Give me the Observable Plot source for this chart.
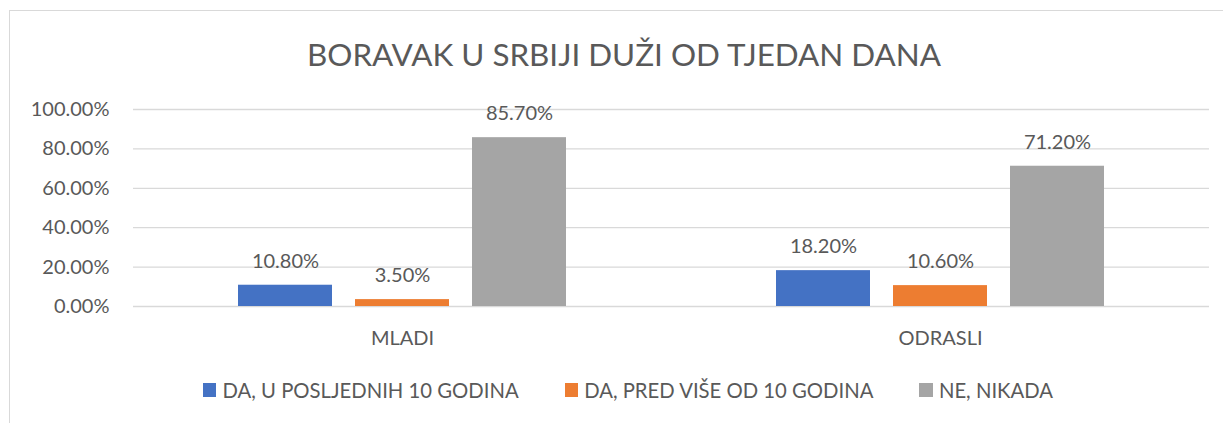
<!DOCTYPE html>
<html>
<head>
<meta charset="utf-8">
<script src="https://cdn.jsdelivr.net/npm/d3@7"></script>
<script src="https://cdn.jsdelivr.net/npm/@observablehq/plot@0.6"></script>
<style>
  html, body { margin: 0; padding: 0; background: #fff; }
  body { width: 1223px; height: 423px; position: relative; overflow: hidden; font-family: Lato, sans-serif; color: #595959; }
  #frame { position: absolute; left: 9px; top: 10px; width: 1230px; height: 430px; border: 1px solid #d9d9d9; box-sizing: border-box; }
  #title { position: absolute; left: 9px; width: 1230px; top: 34px; text-align: center; font-size: 31.4px; line-height: 40px; color: #595959; }
  #chart { position: absolute; left: 0; top: 80px; }
  #legend { position: absolute; left: 0; top: 378px; display: flex; gap: 46px; font-size: 20.3px; line-height: 24px; }
  .item { display: flex; align-items: center; }
  .sw { width: 13.5px; height: 13.5px; margin-right: 6px; }
</style>
</head>
<body>
<div id="frame"></div>
<div id="title">BORAVAK U SRBIJI DUŽI OD TJEDAN DANA</div>
<div id="chart"></div>
<div id="legend"></div>
<script>
const groups = ["MLADI", "ODRASLI"];
const series = ["DA, U POSLJEDNIH 10 GODINA", "DA, PRED VIŠE OD 10 GODINA", "NE, NIKADA"];
const colors = ["#4472C4", "#ED7D31", "#A5A5A5"];
const valuesRecent = [0.108, 0.182];
const valuesOlder = [0.035, 0.106];
const valuesNever = [0.857, 0.712];
const yTicks = [0, 0.2, 0.4, 0.6, 0.8, 1.0];

const seriesValues = [valuesRecent, valuesOlder, valuesNever];
const data = [];
groups.forEach((g, i) => series.forEach((s, j) => data.push({group: g, series: s, value: seriesValues[j][i]})));
const fmt = d3.format(".2%");

const chart = Plot.plot({
  width: 1223,
  height: 276,
  marginTop: 29,
  marginBottom: 50,
  marginLeft: 133,
  marginRight: 14,
  style: {fontFamily: "Lato, sans-serif", fontSize: "20px", color: "#595959", background: "transparent", overflow: "visible"},
  fx: {domain: groups, padding: 0, label: null, axis: "bottom", tickSize: 0, tickPadding: 24},
  x: {domain: series, padding: 0.2, paddingOuter: 0.88, axis: null},
  y: {domain: [0, 1], ticks: yTicks, tickFormat: fmt, tickSize: 0, tickPadding: 24, label: null},
  color: {domain: series, range: colors},
  marks: [
    Plot.ruleY(yTicks, {stroke: "#d9d9d9", strokeWidth: 1.3}),
    Plot.barY(data, {fx: "group", x: "series", y: "value", fill: "series"}),
    Plot.text(data, {fx: "group", x: "series", y: "value", text: d => fmt(d.value), dy: -24, fill: "#595959"})
  ]
});
document.getElementById("chart").appendChild(chart);

const legend = document.getElementById("legend");
series.forEach((s, j) => {
  const it = document.createElement("div");
  it.className = "item";
  const sw = document.createElement("span");
  sw.className = "sw";
  sw.style.background = colors[j];
  const tx = document.createElement("span");
  tx.textContent = s;
  it.appendChild(sw);
  it.appendChild(tx);
  legend.appendChild(it);
});
// center legend around the reference's legend midpoint
const lw = legend.getBoundingClientRect().width;
legend.style.left = (628 - lw / 2) + "px";
</script>
</body>
</html>
